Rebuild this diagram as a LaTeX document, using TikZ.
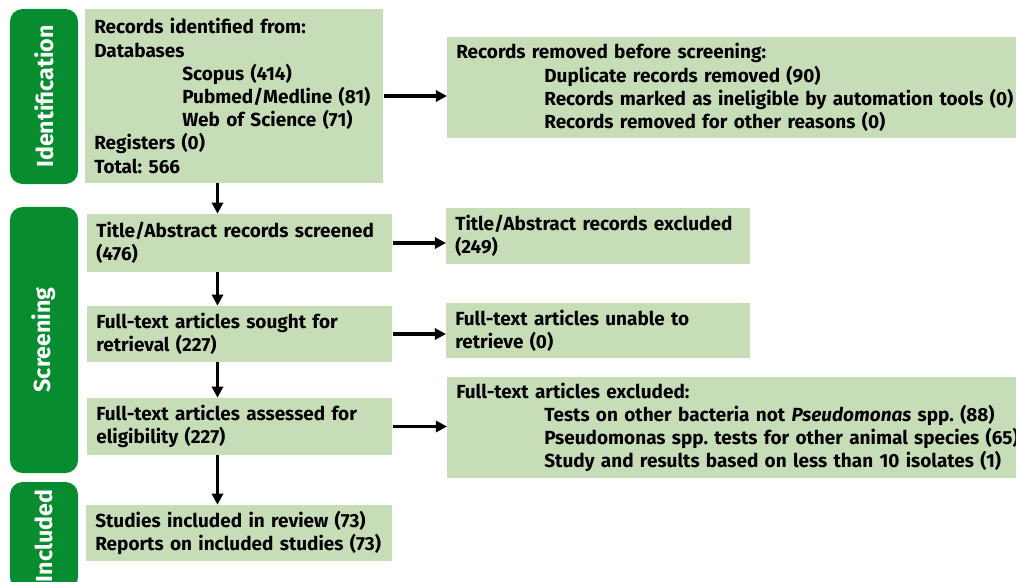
\documentclass[tikz,border=0pt]{standalone}
\usepackage{fontspec}
\setmainfont{Fira Sans}
\usetikzlibrary{arrows.meta}
\definecolor{stagegreen}{RGB}{8,140,48}
\definecolor{boxgreen}{RGB}{199,221,183}
\tikzset{
  stagebox/.style={fill=stagegreen, rounded corners=9pt, text=white, rotate=90, minimum height=1.7cm, inner sep=0pt, font=\fontsize{16.5}{18}\selectfont\bfseries},
  infobox/.style={fill=boxgreen, anchor=west, align=left, inner xsep=0.225cm, inner ysep=1pt, font=\fontsize{13.5}{16.5}\selectfont\bfseries},
  arr/.style={line width=2.2pt, -{Triangle[length=2.8mm,width=2.8mm]}}
}
\newcommand{\ind}{\hspace*{2.2cm}}
\frenchspacing
\begin{document}
\begin{tikzpicture}[x=0.025cm,y=-0.025cm]
        \useasboundingbox (0,0) rectangle (1016,581);
        \clip (0,0) rectangle (1016,581);
        %Stages
        \node[stagebox, minimum width=4.375cm] (ID)  at (44,96.5) {Identification};
        \node[stagebox, minimum width=6.65cm]  (SCR) at (44,340)  {Screening};
        \node[stagebox, minimum width=2.7cm]   (INC) at (44,536)  {Included};

        %Left column
        \node[infobox, text width=7cm, minimum height=4.35cm] (REC) at (85,96)
            {Records identified from:\\Databases\\\ind Scopus (414)\\\ind Pubmed/Medline (81)\\\ind Web of Science (71)\\Registers (0)\\Total: 566};
        \node[infobox, text width=7.175cm, minimum height=1.45cm] (SCREEN) at (87,243)
            {Title/Abstract records screened\\(476)};
        \node[infobox, text width=7.175cm, minimum height=1.4cm] (SOUGHT) at (87,334)
            {Full-text articles sought for\\retrieval (227)};
        \node[infobox, text width=7.175cm, minimum height=1.425cm] (ELIG) at (87,426.5)
            {Full-text articles assessed for\\eligibility (227)};
        \node[infobox, text width=7.2cm, minimum height=1.4cm] (STUDY) at (86,533)
            {Studies included in review (73)\\Reports on included studies (73)};

        %Right column
        \node[infobox, text width=14.55cm, minimum height=2.525cm] (REMOVED) at (447,87.5)
            {Records removed before screening:\\\ind Duplicate records removed (90)\\\ind Records marked as ineligible by automation tools (0)\\\ind Records removed for other reasons (0)};
        \node[infobox, text width=7.15cm, minimum height=1.4cm] (EXCL) at (446,236)
            {Title/Abstract records excluded\\(249)};
        \node[infobox, text width=7.15cm, minimum height=1.375cm] (NORET) at (446,330.5)
            {Full-text articles unable to\\retrieve (0)};
        \node[infobox, text width=14.55cm, minimum height=2.525cm] (FTEXCL) at (447,427.5)
            {Full-text articles excluded:\\\ind Tests on other bacteria not \textit{Pseudomonas} spp. (88)\\\ind Pseudomonas spp. tests for other animal species (65)\\\ind Study and results based on less than 10 isolates (1)};

        \coordinate (SPINE) at (217.5,0);

        \draw[arr] (REC.south -| SPINE)    -- (SCREEN.north -| SPINE);
        \draw[arr] (SCREEN.south -| SPINE) -- (SOUGHT.north -| SPINE);
        \draw[arr] (SOUGHT.south -| SPINE) -- (ELIG.north -| SPINE);
        \draw[arr] (ELIG.south -| SPINE)   -- (STUDY.north -| SPINE);

        \draw[arr] (REC.east)    -- (REC.east -| REMOVED.west);
        \draw[arr] (SCREEN.east) -- (SCREEN.east -| EXCL.west);
        \draw[arr] (SOUGHT.east) -- (SOUGHT.east -| NORET.west);
        \draw[arr] (ELIG.east)   -- (ELIG.east -| FTEXCL.west);
\end{tikzpicture}
\end{document}
